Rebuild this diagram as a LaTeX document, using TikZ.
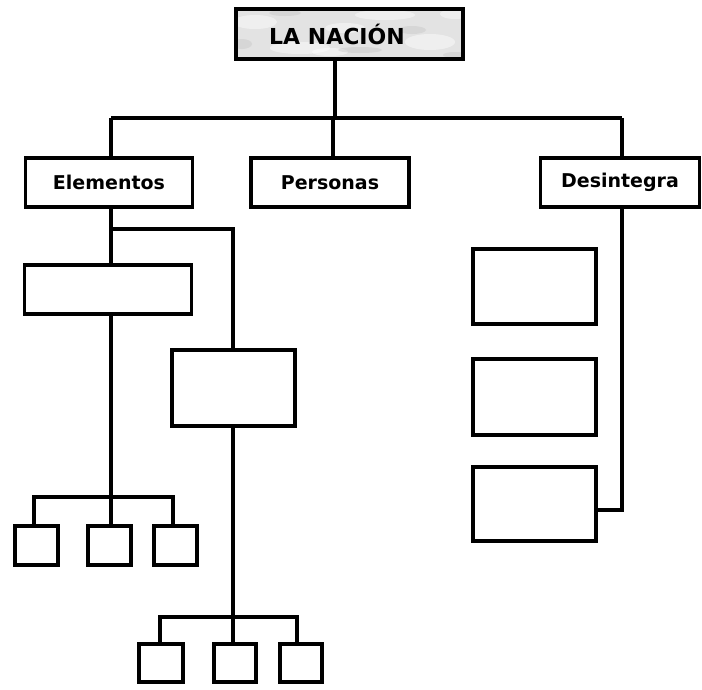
\documentclass[tikz,border=0pt]{standalone}
\usepackage{fontspec}
\setmainfont{DejaVu Sans}
\begin{document}
\begin{tikzpicture}[x=1pt,y=-1pt,
  caja/.style={draw,line width=3.5pt,inner sep=0pt,fill=white,
    font=\bfseries\fontsize{19}{21}\selectfont},
  enlace/.style={line width=3.5pt}]
\useasboundingbox (0,0) rectangle (702,689);

% marble title box
\begin{scope}
\clip (235.5,8.5) rectangle (463.5,59.5);
\fill[gray!22] (235.5,8.5) rectangle (463.5,59.5);
\foreach \px/\py/\rx/\ry in {255/22/22/7, 300/48/30/6, 385/15/30/5, 430/42/25/8, 345/28/20/5, 455/14/15/5, 330/52/18/4}
  \fill[white,opacity=0.45] (\px,\py) ellipse[x radius=\rx,y radius=\ry];
\foreach \px/\py/\rx/\ry in {242/44/10/5, 360/50/22/3, 412/30/14/4, 285/13/16/3, 455/55/12/3}
  \fill[gray!50,opacity=0.35] (\px,\py) ellipse[x radius=\rx,y radius=\ry];
\end{scope}
\node[caja,fill=none,minimum width=227pt,minimum height=50pt] (nacion) at (349.5,34) {};
\node[font=\bfseries\fontsize{22}{24}\selectfont] (titulo) at (337,34) {LA NACIÓN};

% second level
\node[caja,minimum width=167pt,minimum height=49pt] (elementos) at (109,182.5) {Elementos};
\node[caja,minimum width=158pt,minimum height=49pt] (personas) at (330,182.5) {Personas};
\node[caja,minimum width=159pt,minimum height=49pt] (desintegra) at (620,182.5) {Desintegra};

% Elementos branch
\node[caja,minimum width=167pt,minimum height=49pt] (rasgo) at (108,289.5) {};
\node[caja,minimum width=123pt,minimum height=76pt] (factor) at (233.5,388) {};
\node[caja,minimum width=43pt,minimum height=39pt] (a1) at (36.5,545.5) {};
\node[caja,minimum width=43pt,minimum height=39pt] (a2) at (109.5,545.5) {};
\node[caja,minimum width=43pt,minimum height=39pt] (a3) at (175.5,545.5) {};
\node[caja,minimum width=44pt,minimum height=38pt] (b1) at (161,663) {};
\node[caja,minimum width=42pt,minimum height=38pt] (b2) at (235,663) {};
\node[caja,minimum width=42pt,minimum height=38pt] (b3) at (301,663) {};

% Desintegra branch
\node[caja,minimum width=123pt,minimum height=75pt] (c1) at (534.5,286.5) {};
\node[caja,minimum width=123pt,minimum height=76pt] (c2) at (534.5,397) {};
\node[caja,minimum width=123pt,minimum height=74pt] (c3) at (534.5,504) {};

% junctions
\coordinate (j0) at (335,118);
\coordinate (jel) at (111,118);
\coordinate (jpe) at (333,118);
\coordinate (jde) at (622,118);
\coordinate (j1) at (111,229);
\coordinate (j1b) at (233,229);
\coordinate (j2) at (111,497);
\coordinate (j2a) at (34,497);
\coordinate (j2c) at (173,497);
\coordinate (j3) at (233,617);
\coordinate (j3a) at (160,617);
\coordinate (j3c) at (297,617);
\coordinate (jd) at (622,510);

\begin{scope}[enlace]
\draw (nacion.south -| j0) -- (j0);
\draw (jel) -- (jde);
\draw (jel) -- (elementos.north -| jel);
\draw (jpe) -- (personas.north -| jpe);
\draw (jde) -- (desintegra.north -| jde);

\draw (elementos.south -| j1) -- (rasgo.north -| j1);
\draw (j1) -- (j1b) -- (factor.north -| j1b);
\draw (rasgo.south -| j2) -- (a2.north -| j2);
\draw (a1.north -| j2a) -- (j2a) -- (j2c) -- (a3.north -| j2c);
\draw (factor.south -| j3) -- (j3);
\draw (b1.north -| j3a) -- (j3a) -- (j3c) -- (b3.north -| j3c);
\draw (j3) -- (b2.north -| j3);

\draw (desintegra.south -| jd) -- (jd) -- (c3.east |- jd);
\end{scope}
\end{tikzpicture}
\end{document}
